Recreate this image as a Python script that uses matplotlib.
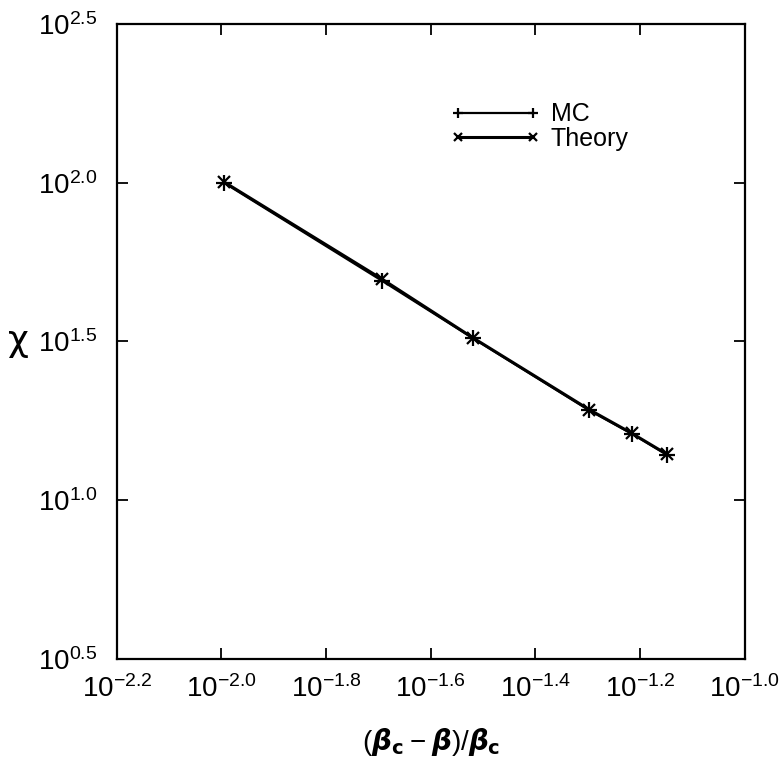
import math
import matplotlib
matplotlib.use("Agg")
import matplotlib.pyplot as plt
from matplotlib.ticker import FixedLocator, FuncFormatter, NullLocator

plt.rcParams['font.family'] = ['Liberation Sans', 'DejaVu Sans']
plt.rcParams['mathtext.fontset'] = 'custom'
plt.rcParams['mathtext.rm'] = 'Liberation Sans'
plt.rcParams['mathtext.it'] = 'DejaVu Sans:italic:bold'
plt.rcParams['mathtext.bf'] = 'DejaVu Sans:bold'

# reduced temperature (beta_c - beta)/beta_c and susceptibility chi
reduced_t = [0.0101, 0.0203, 0.0302, 0.0504, 0.0608, 0.0710]
chi_mc = [100.0, 49.0, 32.4, 19.2, 16.2, 13.9]
chi_theory = [100.6, 49.6, 32.5, 19.3, 16.25, 13.95]

x_tick_exps = [-2.2, -2.0, -1.8, -1.6, -1.4, -1.2, -1.0]
y_tick_exps = [0.5, 1.0, 1.5, 2.0, 2.5]

fig = plt.figure(figsize=(7.84, 7.69), dpi=100)
ax = fig.add_axes([0.149, 0.143, 0.801, 0.826])

ax.plot(reduced_t, chi_mc, color='black', lw=1.6, marker='+', ms=11, mew=1.6, label='MC')
ax.plot(reduced_t, chi_theory, color='black', lw=2.2, marker='x', ms=8, mew=1.6, label='Theory')

ax.set_xscale('log')
ax.set_yscale('log')
ax.set_xlim(10 ** x_tick_exps[0], 10 ** x_tick_exps[-1])
ax.set_ylim(10 ** y_tick_exps[0], 10 ** y_tick_exps[-1])

ax.xaxis.set_major_locator(FixedLocator([10 ** e for e in x_tick_exps]))
ax.yaxis.set_major_locator(FixedLocator([10 ** e for e in y_tick_exps]))
ax.xaxis.set_minor_locator(NullLocator())
ax.yaxis.set_minor_locator(NullLocator())


def pow_label(v, pos):
    return r'$\mathregular{10^{%.1f}}$' % math.log10(v)


ax.xaxis.set_major_formatter(FuncFormatter(pow_label))
ax.yaxis.set_major_formatter(FuncFormatter(pow_label))

ax.tick_params(which='major', direction='in', length=8, width=1.3,
               top=True, right=True, labelsize=20)
ax.tick_params(axis='x', pad=12)
ax.tick_params(axis='y', pad=14)
for s in ax.spines.values():
    s.set_linewidth(1.6)

ax.set_xlabel(r'$(\mathit{\beta}_\mathbf{c}-\mathit{\beta})/\mathit{\beta}_\mathbf{c}$',
              fontsize=20, labelpad=16)
ax.set_ylabel('χ', fontsize=26, rotation=0, family='DejaVu Sans',
              labelpad=14, va='center')

ax.legend(loc='upper left', bbox_to_anchor=(0.516, 0.892), frameon=False,
          fontsize=18, numpoints=2, handlelength=3.6, handletextpad=0.4,
          labelspacing=0.02, borderaxespad=0, markerscale=0.7)

fig.savefig('out.png', dpi=100)
